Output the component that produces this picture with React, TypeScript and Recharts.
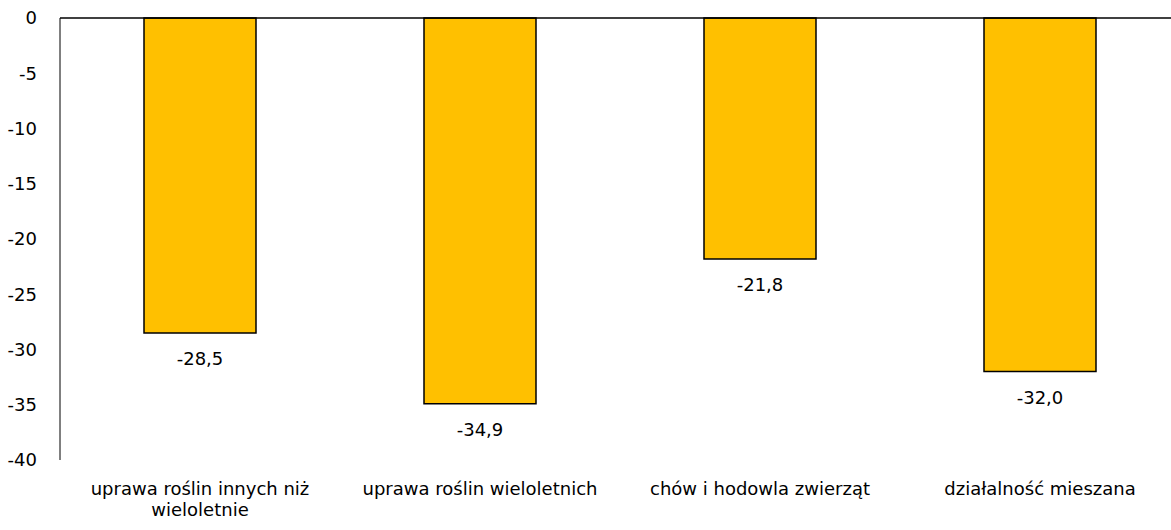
import React from 'react';
import { BarChart, Bar, XAxis, YAxis, ReferenceLine, LabelList } from 'recharts';

// dane z wykresu
const categories = [
  'uprawa roślin innych niż wieloletnie',
  'uprawa roślin wieloletnich',
  'chów i hodowla zwierząt',
  'działalność mieszana',
];
const values = [-28.5, -34.9, -21.8, -32.0];
const yTicks = [0, -5, -10, -15, -20, -25, -30, -35, -40];

const data = categories.map((name, i) => ({ name, value: values[i] }));

const FONT = '"DejaVu Sans", Verdana, sans-serif';
const FS = 18;

// zawijanie dlugich etykiet osi X
function wrap(text: string, max: number) {
  const words = text.split(' ');
  const lines: string[] = [];
  let cur = '';
  words.forEach((w) => {
    const next = cur ? cur + ' ' + w : w;
    if (next.length > max && cur) {
      lines.push(cur);
      cur = w;
    } else {
      cur = next;
    }
  });
  if (cur) lines.push(cur);
  return lines;
}

const CategoryTick = (props: any) => {
  const { x, y, payload } = props;
  const lines = wrap(payload.value, 26);
  return (
    <text x={x} y={y} textAnchor="middle" fontFamily={FONT} fontSize={FS} fill="#000">
      {lines.map((l, i) => (
        <tspan key={i} x={x} dy={i === 0 ? 0 : 21}>
          {l}
        </tspan>
      ))}
    </text>
  );
};

const ValueLabel = (props: any) => {
  const { x, y, width, height, value } = props;
  const bottom = Math.max(y, y + height);
  return (
    <text
      x={x + width / 2}
      y={bottom + 26}
      textAnchor="middle"
      dominantBaseline="central"
      fontFamily={FONT}
      fontSize={FS}
      fill="#000"
    >
      {Number(value).toFixed(1).replace('.', ',')}
    </text>
  );
};

export default function App() {
  return (
    <div style={{ position: 'absolute', left: 0, top: 0, width: 1171, height: 530, overflow: 'hidden', background: '#fff' }}>
      <BarChart
        width={1190}
        height={530}
        data={data}
        margin={{ top: 18, right: 10, left: 0, bottom: 0 }}
        barCategoryGap="30%"
      >
        <YAxis
          width={60}
          domain={[-40, 0]}
          ticks={yTicks}
          interval={0}
          tickLine={false}
          tickSize={0}
          tickMargin={23}
          axisLine={{ stroke: '#000', strokeWidth: 1 }}
          tick={{ fontFamily: FONT, fontSize: FS, fill: '#000' }}
        />
        <XAxis
          dataKey="name"
          height={70}
          axisLine={false}
          tickLine={false}
          tickSize={0}
          tick={<CategoryTick />}
          tickMargin={35}
          interval={0}
        />
        <Bar dataKey="value" fill="#FFC000" stroke="#000" strokeWidth={1.5} isAnimationActive={false}>
          <LabelList dataKey="value" content={<ValueLabel />} />
        </Bar>
        <ReferenceLine y={0} stroke="#000" strokeWidth={1.5} />
      </BarChart>
    </div>
  );
}
